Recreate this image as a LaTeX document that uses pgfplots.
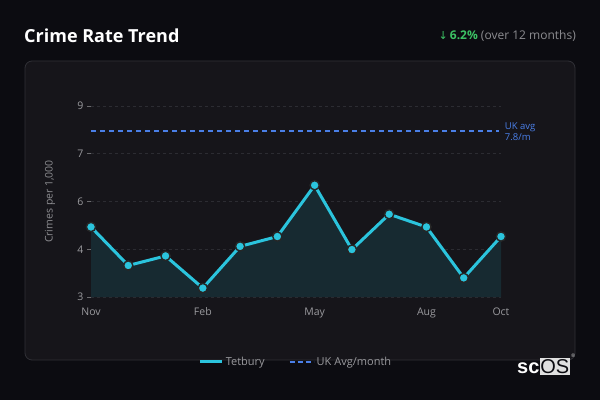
\documentclass[border=0pt]{standalone}
\usepackage{pgfplots}
\pgfplotsset{compat=1.18}
\usepackage{fontspec}
\setmainfont{Open Sans}
\newfontfamily\dejavu{DejaVu Sans}
\newfontfamily\logofont{Liberation Sans}

\definecolor{bg}{HTML}{0C0C11}
\definecolor{panel}{HTML}{16151A}
\definecolor{panelborder}{HTML}{303036}
\definecolor{gridc}{HTML}{2C2C32}
\definecolor{tickc}{HTML}{9A9A9E}
\definecolor{graytxt}{HTML}{8C8C90}
\definecolor{upgreen}{HTML}{3CC264}
\definecolor{ukblue}{HTML}{4A7FE8}
\definecolor{linec}{HTML}{2BC4DD}
\definecolor{areac}{HTML}{172A31}

\begin{document}
\begin{tikzpicture}[x=1pt,y=1pt]
  % page and panel
  \fill[bg] (0,0) rectangle (600,400);
  \filldraw[fill=panel, draw=panelborder, line width=0.8pt, rounded corners=7pt]
    (25,40) rectangle (575,339);

  % header
  \node[anchor=west, text=white, font=\fontsize{18}{20}\selectfont\bfseries, inner sep=0pt]
    at (24,364) {Crime Rate Trend};
  \node[anchor=east, inner sep=0pt, font=\fontsize{12}{14}\selectfont]
    at (576,364) {{\color{upgreen}{\dejavu\fontsize{11}{14}\selectfont↓}\,\bfseries 6.2\%} {\color{graytxt}(over 12 months)}};

  \begin{axis}[
      at={(91pt,103pt)}, anchor=south west,
      width=410pt, height=191pt, scale only axis,
      xmin=0, xmax=11, ymin=3, ymax=9,
      clip=false,
      axis line style={draw=none},
      xtick={0,3,6,9,11},
      xticklabels={Nov,Feb,May,Aug,Oct},
      ytick={3,4.5,6,7.5,9},
      yticklabels={3,4,6,7,9},
      ytick pos=left,
      xtick pos=bottom,
      x tick style={draw=none},
      y tick style={draw=tickc!70!black, line width=0.8pt},
      tick align=outside,
      major tick length=4pt,
      ymajorgrids,
      grid style={gridc, dash pattern=on 3pt off 3pt, line width=0.8pt},
      tick label style={text=tickc, font=\fontsize{10.5}{12}\selectfont},
      xticklabel style={yshift=-3pt},
      /pgf/number format/assume math mode=true,
      ylabel={Crimes per 1,000},
      ylabel style={at={(axis description cs:-0.1,0.5)}, anchor=center,
                    text=graytxt, font=\fontsize{10.5}{12}\selectfont},
      legend style={at={(0.5,-0.34)}, anchor=center, draw=none, fill=none,
                    text=tickc, font=\fontsize{11}{13}\selectfont,
                    legend columns=2,
                    /tikz/every even column/.append style={column sep=22pt}},
    ]
    % area under the series
    \addplot[draw=none, fill=areac, forget plot] coordinates {
      (0,5.20) (1,3.99) (2,4.29) (3,3.28) (4,4.59) (5,4.90)
      (6,6.51) (7,4.49) (8,5.60) (9,5.20) (10,3.60) (11,4.90)
    } \closedcycle;

    % UK average
    \addplot[draw=ukblue, line width=2pt, dash pattern=on 5pt off 4pt, forget plot]
      coordinates {(0,8.2) (10.95,8.2)};
    \node[anchor=west, align=left, text=ukblue, inner sep=0pt,
          font=\fontsize{9.5}{11}\selectfont] at (axis cs:11.1,8.2) {UK avg\\7.8/m};

    % Tetbury series
    \addplot[linec, line width=3pt, mark=*, mark size=4.6pt, forget plot,
             mark options={fill=linec, draw=black!85, line width=1.4pt}]
      coordinates {
      (0,5.20) (1,3.99) (2,4.29) (3,3.28) (4,4.59) (5,4.90)
      (6,6.51) (7,4.49) (8,5.60) (9,5.20) (10,3.60) (11,4.90)
    };

    \addlegendimage{legend image code/.code={\draw[linec, line width=3pt] (0pt,0pt) -- (22pt,0pt);}}
    \addlegendentry{Tetbury}
    \addlegendimage{legend image code/.code={\draw[draw=ukblue, line width=2pt, dash pattern=on 5pt off 3pt] (0pt,0pt) -- (24pt,0pt);}}
    \addlegendentry{UK Avg/month}
  \end{axis}

  % logo
  \node[anchor=base west, inner sep=0pt, text=white, font=\logofont\bfseries\fontsize{20}{22}\selectfont]
    (sc) at (517,27) {sc};
  \node[anchor=base west, inner sep=0pt, text=bg, fill=white!88!black,
        font=\logofont\fontsize{20}{22}\selectfont, inner xsep=0.5pt, inner ysep=1.5pt]
    (os) at (sc.base east) {OS};
  \node[anchor=south west, inner sep=0pt, text=white!80!black, font=\fontsize{5}{6}\selectfont]
    at ([xshift=1pt]os.north east) {®};

  \pgfresetboundingbox
  \useasboundingbox (0,0) rectangle (600,400);
\end{tikzpicture}
\end{document}
